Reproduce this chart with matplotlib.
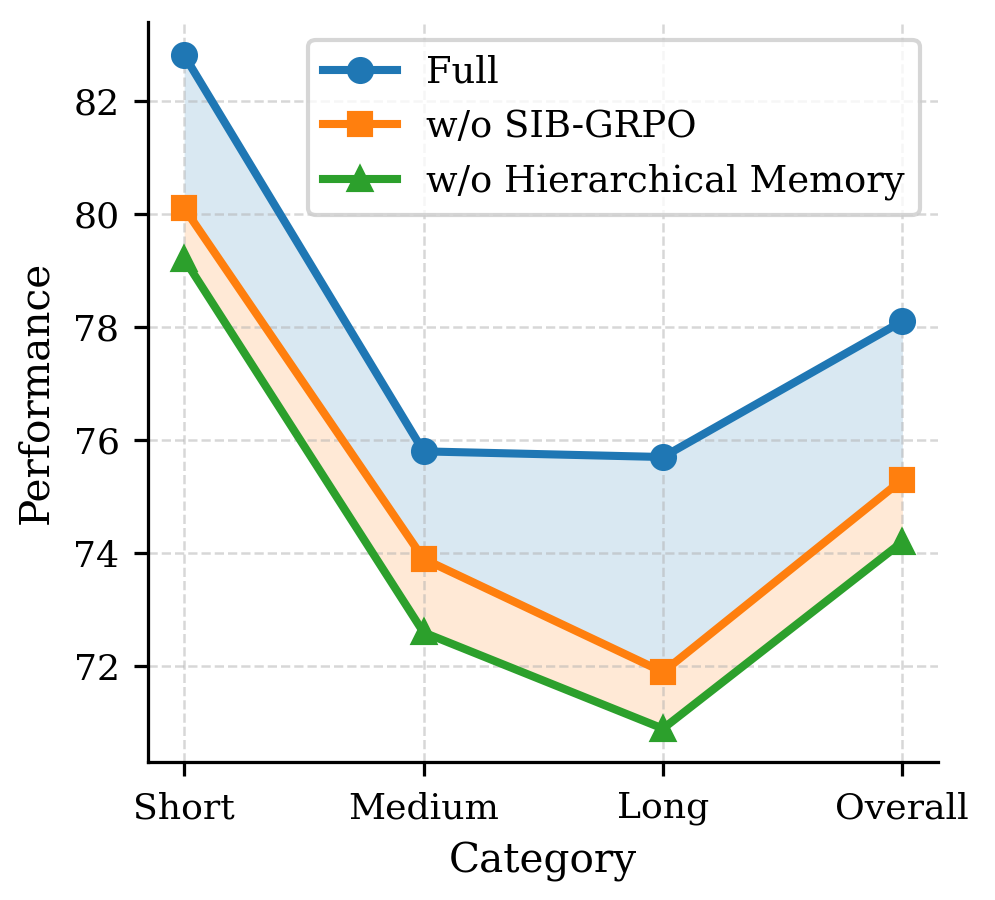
import matplotlib
matplotlib.use("Agg")
import matplotlib.pyplot as plt

categories = ["Short", "Medium", "Long", "Overall"]
full = [82.8, 75.8, 75.7, 78.1]
wo_sib = [80.1, 73.9, 71.9, 75.3]
wo_hm = [79.2, 72.6, 70.9, 74.2]

plt.rcParams['font.family'] = ['DejaVu Serif']

s = 0.97
fig, ax = plt.subplots(figsize=(995/300, 900/300), dpi=300)
x = list(range(len(categories)))
ax.plot(x, full, marker='o', color='#1f77b4', lw=2*s, ms=5.5, label='Full')
ax.plot(x, wo_sib, marker='s', color='#ff7f0e', lw=2*s, ms=5.5, label='w/o SIB-GRPO')
ax.plot(x, wo_hm, marker='^', color='#2ca02c', lw=2*s, ms=5.5, label='w/o Hierarchical Memory')
ax.fill_between(x, full, wo_sib, color='#1f77b4', alpha=0.17, lw=0)
ax.fill_between(x, wo_sib, wo_hm, color='#ff7f0e', alpha=0.17, lw=0)

ax.set_xticks(x)
ax.set_xticklabels(categories, fontsize=8.7)
ax.tick_params(axis='y', labelsize=8.7)
ax.tick_params(width=0.8*s, length=3.5*s)
ax.set_xlabel('Category', fontsize=9.75)
ax.set_ylabel('Performance', fontsize=9.75)
ax.grid(True, linestyle='--', alpha=0.5, lw=0.6)
for sp in ax.spines.values():
    sp.set_linewidth(0.8*s)
ax.spines['top'].set_visible(False)
ax.spines['right'].set_visible(False)
ax.legend(loc='upper right', fontsize=8.85)
fig.subplots_adjust(left=0.149, right=0.943, bottom=0.153, top=0.976)
fig.savefig('out.png', dpi=300)
